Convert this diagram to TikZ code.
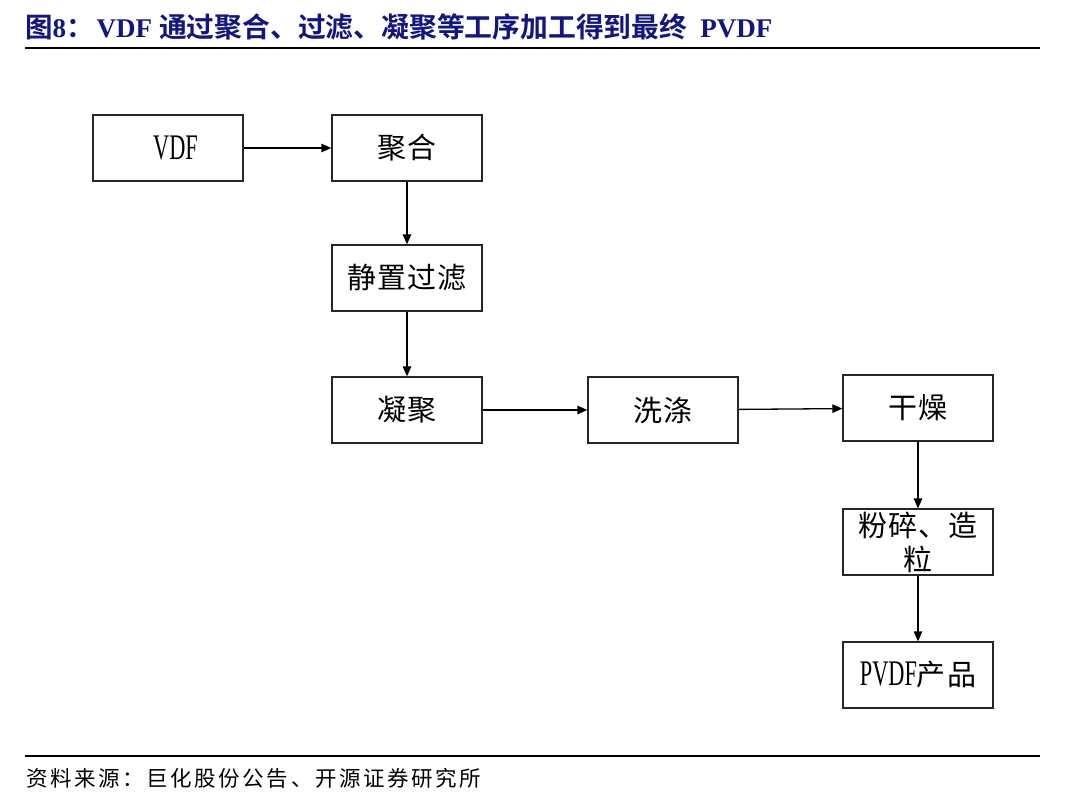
\documentclass[tikz,border=0pt]{standalone}
\usepackage{fontspec}
\usetikzlibrary{arrows.meta}
\setmainfont{Liberation Serif}
\newfontfamily\cjk[LetterSpace=4]{Noto Sans CJK SC}
\newfontfamily\cjkfoot[LetterSpace=12]{Noto Sans CJK SC}
\newfontfamily\cjkbold{Noto Sans CJK SC Bold}
\newfontfamily\blat[FakeStretch=0.62]{Liberation Serif}
\newfontfamily\tlat{Liberation Serif Bold}
\definecolor{titleblue}{RGB}{18,22,128}
\begin{document}
\begin{tikzpicture}[x=1pt,y=-1pt,
  stepbox/.style={draw=black!85,line width=1.3pt,minimum width=150pt,minimum height=66pt,
    inner sep=0pt,font=\fontsize{29}{34}\selectfont\cjk},
  flow/.style={line width=1.3pt,-{Triangle[length=10pt,width=8.5pt]}},
  rule/.style={line width=2.2pt}]
\useasboundingbox (0,0) rectangle (1068,799);
\fill[white] (0,0) rectangle (1068,799);

% heading and rules
\node[anchor=base west,inner sep=0pt,text=titleblue] (title) at (25,38)
  {{\fontsize{27.5}{30}\selectfont\cjkbold 图}{\fontsize{27}{30}\selectfont\tlat 8}{\fontsize{27.5}{30}\selectfont\cjkbold ：}\hspace{3pt}{\fontsize{27}{30}\selectfont\tlat VDF}\hspace{7pt}{\fontsize{27.8}{30}\selectfont\cjkbold 通过聚合、过滤、凝聚等工序加工得到最终}\hspace{13pt}{\fontsize{27}{30}\selectfont\tlat PVDF}};
\coordinate (tl) at (25,48);
\coordinate (tr) at (1040,48);
\draw[rule] (tl) -- (tr);
\coordinate (bl) at (25,756);
\coordinate (br) at (1040,756);
\draw[rule] (bl) -- (br);
\node[anchor=base west,inner sep=0pt] (source) at (26,786)
  {\fontsize{21.5}{24}\selectfont\cjkfoot 资料来源：巨化股份公告、开源证券研究所};

% process boxes
\node[stepbox] (vdf) at (168,148) {\hspace*{15pt}{\fontsize{36}{38}\selectfont\blat VDF}};
\node[stepbox] (poly) at (407,148) {聚合};
\node[stepbox] (filt) at (407,278) {静置过滤};
\node[stepbox] (coag) at (407,410) {凝聚};
\node[stepbox] (wash) at (663,410) {洗涤};
\node[stepbox] (dry) at (918,408) {干燥};
\node[stepbox,align=center] (mill) at (918,542) {粉碎、造\\粒};
\node[stepbox] (prod) at (918,675) {{\fontsize{36}{38}\selectfont\blat PVDF}产品};

% connectors
\draw[flow] (vdf) -- (poly);
\draw[flow] (poly) -- (filt);
\draw[flow] (filt) -- (coag);
\draw[flow] (coag) -- (wash);
\draw[flow] (wash) -- (dry);
\draw[flow] (dry) -- (mill);
\draw[flow] (mill) -- (prod);
\end{tikzpicture}
\end{document}
